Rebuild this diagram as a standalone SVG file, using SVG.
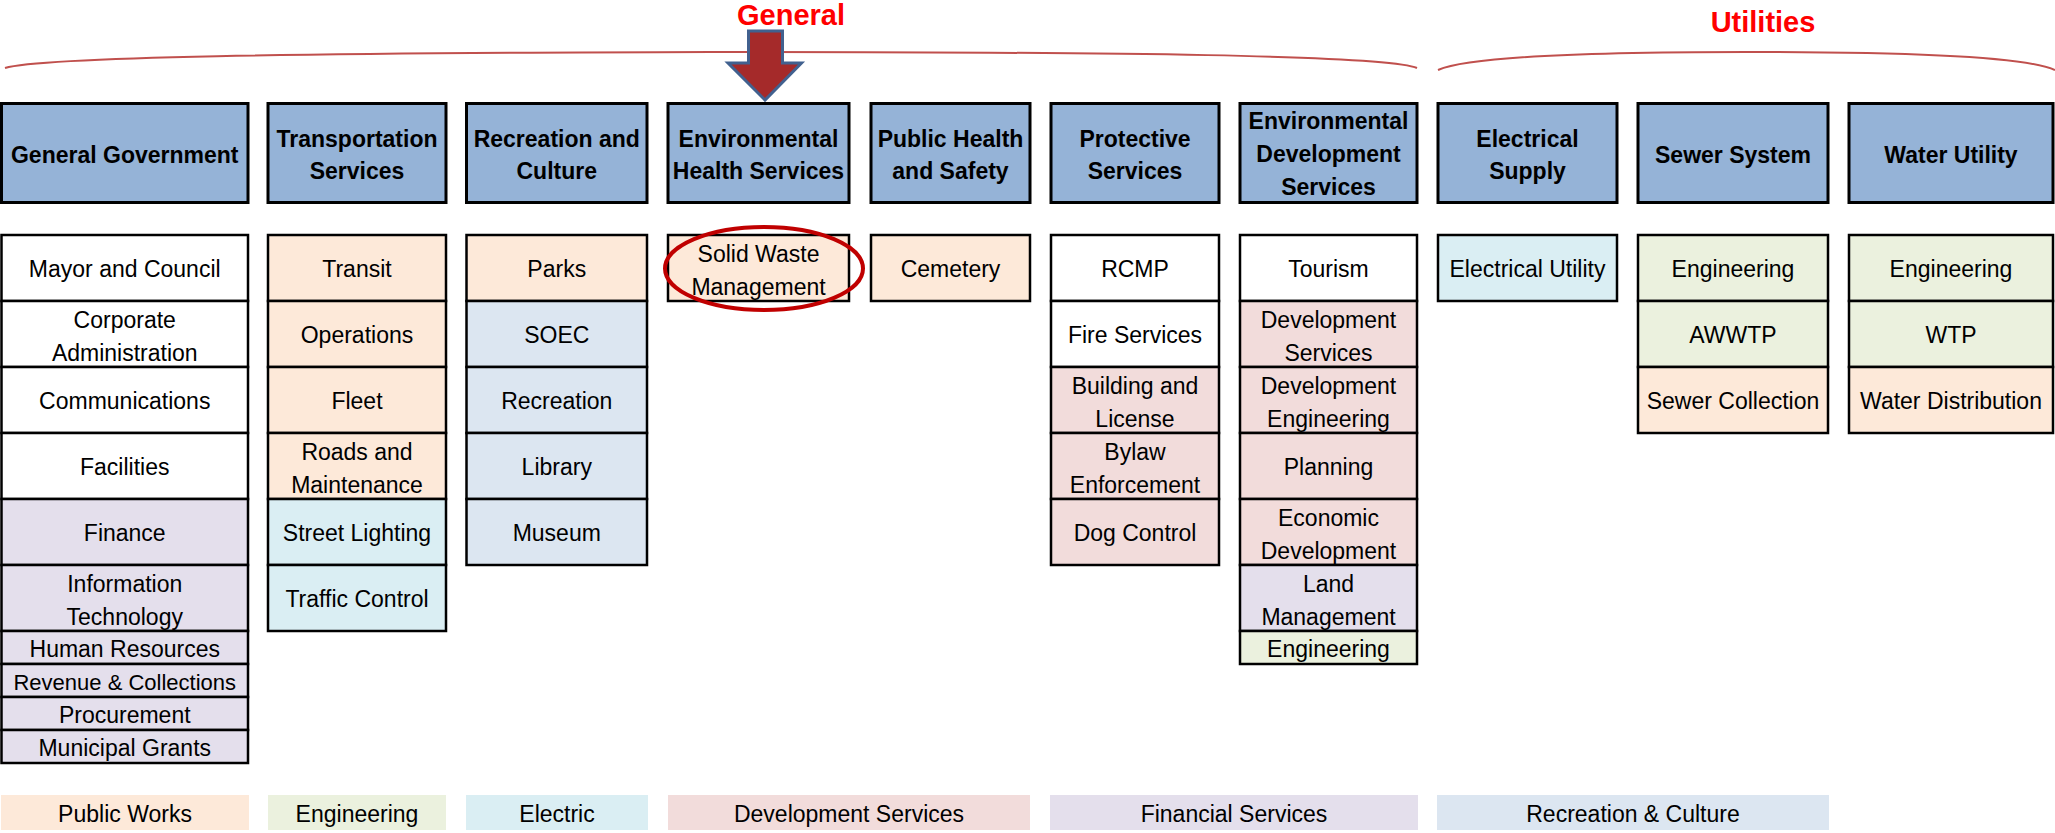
<svg xmlns="http://www.w3.org/2000/svg" width="2055" height="833" viewBox="0 0 2055 833">
<style>
.h{fill:#95b3d7;stroke:#000;stroke-width:3}
.c{stroke:#000;stroke-width:2.5}
.w{fill:#ffffff}.pw{fill:#fde9d9}.en{fill:#ebf1de}.el{fill:#daeef3}.ds{fill:#f2dcdb}.fs{fill:#e4dfec}.rc{fill:#dce6f1}
.ht{font-family:"Liberation Sans",Arial,sans-serif;font-weight:bold;font-size:23px;fill:#000;text-anchor:middle}
.t{font-family:"Liberation Sans",Arial,sans-serif;font-size:23px;fill:#000;text-anchor:middle}
.lbl{font-family:"Liberation Sans",Arial,sans-serif;font-weight:bold;font-size:29px;fill:#ff0000;text-anchor:middle}
.brace{fill:none;stroke:#c0504d;stroke-width:2}
</style>
<rect width="2055" height="833" fill="#ffffff"/>

<g id="annotations">
<text class="lbl" x="791" y="25">General</text>
<text class="lbl" x="1763" y="32">Utilities</text>
<path class="brace" d="M5,68 C40,57 300,53 711,52 C1120,52 1390,55 1417,68"/>
<path class="brace" d="M1438,70 C1470,56 1600,52 1746,52 C1890,52 2025,56 2055,70"/>
<polygon points="748.5,31 782.5,31 782.5,63 801.5,63 765,100 728,63 748.5,63" fill="#a52a2a" stroke="#41618f" stroke-width="3" stroke-linejoin="miter"/>
</g>

<!-- Headers -->
<g id="h-general-government"><rect class="h" x="1.5" y="103.5" width="246.5" height="99"/><text class="ht" x="124.75" y="163">General Government</text></g>
<g id="h-transportation"><rect class="h" x="268" y="103.5" width="178" height="99"/><text class="ht" x="357" y="147">Transportation</text><text class="ht" x="357" y="179">Services</text></g>
<g id="h-recreation"><rect class="h" x="466.5" y="103.5" width="180.5" height="99"/><text class="ht" x="556.75" y="147">Recreation and</text><text class="ht" x="556.75" y="179">Culture</text></g>
<g id="h-env-health"><rect class="h" x="668" y="103.5" width="181" height="99"/><text class="ht" x="758.5" y="147">Environmental</text><text class="ht" x="758.5" y="179">Health Services</text></g>
<g id="h-public-health"><rect class="h" x="871" y="103.5" width="159" height="99"/><text class="ht" x="950.5" y="147">Public Health</text><text class="ht" x="950.5" y="179">and Safety</text></g>
<g id="h-protective"><rect class="h" x="1051" y="103.5" width="168" height="99"/><text class="ht" x="1135" y="147">Protective</text><text class="ht" x="1135" y="179">Services</text></g>
<g id="h-env-dev"><rect class="h" x="1240" y="103.5" width="177" height="99"/><text class="ht" x="1328.5" y="129">Environmental</text><text class="ht" x="1328.5" y="162">Development</text><text class="ht" x="1328.5" y="195">Services</text></g>
<g id="h-electrical"><rect class="h" x="1438" y="103.5" width="179" height="99"/><text class="ht" x="1527.5" y="147">Electrical</text><text class="ht" x="1527.5" y="179">Supply</text></g>
<g id="h-sewer"><rect class="h" x="1638" y="103.5" width="190" height="99"/><text class="ht" x="1733" y="163">Sewer System</text></g>
<g id="h-water"><rect class="h" x="1849" y="103.5" width="204" height="99"/><text class="ht" x="1951" y="163">Water Utility</text></g>

<!-- Column 1 -->
<g id="c1-mayor"><rect class="c w" x="1.5" y="235" width="246.5" height="66"/><text class="t" x="124.75" y="277">Mayor and Council</text></g>
<g id="c1-corporate"><rect class="c w" x="1.5" y="301" width="246.5" height="66"/><text class="t" x="124.75" y="328">Corporate</text><text class="t" x="124.75" y="361">Administration</text></g>
<g id="c1-communications"><rect class="c w" x="1.5" y="367" width="246.5" height="66"/><text class="t" x="124.75" y="409">Communications</text></g>
<g id="c1-facilities"><rect class="c w" x="1.5" y="433" width="246.5" height="66"/><text class="t" x="124.75" y="475">Facilities</text></g>
<g id="c1-finance"><rect class="c fs" x="1.5" y="499" width="246.5" height="66"/><text class="t" x="124.75" y="541">Finance</text></g>
<g id="c1-it"><rect class="c fs" x="1.5" y="565" width="246.5" height="66"/><text class="t" x="124.75" y="592">Information</text><text class="t" x="124.75" y="625">Technology</text></g>
<g id="c1-hr"><rect class="c fs" x="1.5" y="631" width="246.5" height="33"/><text class="t" x="124.75" y="657">Human Resources</text></g>
<g id="c1-revenue"><rect class="c fs" x="1.5" y="664" width="246.5" height="33"/><text class="t" x="124.75" y="690" style="font-size:22px">Revenue &amp; Collections</text></g>
<g id="c1-procurement"><rect class="c fs" x="1.5" y="697" width="246.5" height="33"/><text class="t" x="124.75" y="723">Procurement</text></g>
<g id="c1-grants"><rect class="c fs" x="1.5" y="730" width="246.5" height="33"/><text class="t" x="124.75" y="756">Municipal Grants</text></g>

<!-- Column 2 -->
<g id="c2-transit"><rect class="c pw" x="268" y="235" width="178" height="66"/><text class="t" x="357" y="277">Transit</text></g>
<g id="c2-operations"><rect class="c pw" x="268" y="301" width="178" height="66"/><text class="t" x="357" y="343">Operations</text></g>
<g id="c2-fleet"><rect class="c pw" x="268" y="367" width="178" height="66"/><text class="t" x="357" y="409">Fleet</text></g>
<g id="c2-roads"><rect class="c pw" x="268" y="433" width="178" height="66"/><text class="t" x="357" y="460">Roads and</text><text class="t" x="357" y="493">Maintenance</text></g>
<g id="c2-street-lighting"><rect class="c el" x="268" y="499" width="178" height="66"/><text class="t" x="357" y="541">Street Lighting</text></g>
<g id="c2-traffic"><rect class="c el" x="268" y="565" width="178" height="66"/><text class="t" x="357" y="607">Traffic Control</text></g>

<!-- Column 3 -->
<g id="c3-parks"><rect class="c pw" x="466.5" y="235" width="180.5" height="66"/><text class="t" x="556.75" y="277">Parks</text></g>
<g id="c3-soec"><rect class="c rc" x="466.5" y="301" width="180.5" height="66"/><text class="t" x="556.75" y="343">SOEC</text></g>
<g id="c3-recreation"><rect class="c rc" x="466.5" y="367" width="180.5" height="66"/><text class="t" x="556.75" y="409">Recreation</text></g>
<g id="c3-library"><rect class="c rc" x="466.5" y="433" width="180.5" height="66"/><text class="t" x="556.75" y="475">Library</text></g>
<g id="c3-museum"><rect class="c rc" x="466.5" y="499" width="180.5" height="66"/><text class="t" x="556.75" y="541">Museum</text></g>

<!-- Column 4 -->
<g id="c4-solid-waste"><rect class="c pw" x="668" y="235" width="181" height="66"/><text class="t" x="758.5" y="262">Solid Waste</text><text class="t" x="758.5" y="295">Management</text>
<ellipse cx="764" cy="268.5" rx="99" ry="41.5" fill="none" stroke="#c00000" stroke-width="4"/></g>

<!-- Column 5 -->
<g id="c5-cemetery"><rect class="c pw" x="871" y="235" width="159" height="66"/><text class="t" x="950.5" y="277">Cemetery</text></g>

<!-- Column 6 -->
<g id="c6-rcmp"><rect class="c w" x="1051" y="235" width="168" height="66"/><text class="t" x="1135" y="277">RCMP</text></g>
<g id="c6-fire"><rect class="c w" x="1051" y="301" width="168" height="66"/><text class="t" x="1135" y="343">Fire Services</text></g>
<g id="c6-building"><rect class="c ds" x="1051" y="367" width="168" height="66"/><text class="t" x="1135" y="394">Building and</text><text class="t" x="1135" y="427">License</text></g>
<g id="c6-bylaw"><rect class="c ds" x="1051" y="433" width="168" height="66"/><text class="t" x="1135" y="460">Bylaw</text><text class="t" x="1135" y="493">Enforcement</text></g>
<g id="c6-dog"><rect class="c ds" x="1051" y="499" width="168" height="66"/><text class="t" x="1135" y="541">Dog Control</text></g>

<!-- Column 7 -->
<g id="c7-tourism"><rect class="c w" x="1240" y="235" width="177" height="66"/><text class="t" x="1328.5" y="277">Tourism</text></g>
<g id="c7-dev-services"><rect class="c ds" x="1240" y="301" width="177" height="66"/><text class="t" x="1328.5" y="328">Development</text><text class="t" x="1328.5" y="361">Services</text></g>
<g id="c7-dev-eng"><rect class="c ds" x="1240" y="367" width="177" height="66"/><text class="t" x="1328.5" y="394">Development</text><text class="t" x="1328.5" y="427">Engineering</text></g>
<g id="c7-planning"><rect class="c ds" x="1240" y="433" width="177" height="66"/><text class="t" x="1328.5" y="475">Planning</text></g>
<g id="c7-economic"><rect class="c ds" x="1240" y="499" width="177" height="66"/><text class="t" x="1328.5" y="526">Economic</text><text class="t" x="1328.5" y="559">Development</text></g>
<g id="c7-land"><rect class="c fs" x="1240" y="565" width="177" height="66"/><text class="t" x="1328.5" y="592">Land</text><text class="t" x="1328.5" y="625">Management</text></g>
<g id="c7-engineering"><rect class="c en" x="1240" y="631" width="177" height="33"/><text class="t" x="1328.5" y="657">Engineering</text></g>

<!-- Column 8 -->
<g id="c8-electrical-utility"><rect class="c el" x="1438" y="235" width="179" height="66"/><text class="t" x="1527.5" y="277">Electrical Utility</text></g>

<!-- Column 9 -->
<g id="c9-engineering"><rect class="c en" x="1638" y="235" width="190" height="66"/><text class="t" x="1733" y="277">Engineering</text></g>
<g id="c9-awwtp"><rect class="c en" x="1638" y="301" width="190" height="66"/><text class="t" x="1733" y="343">AWWTP</text></g>
<g id="c9-sewer-collection"><rect class="c pw" x="1638" y="367" width="190" height="66"/><text class="t" x="1733" y="409">Sewer Collection</text></g>

<!-- Column 10 -->
<g id="c10-engineering"><rect class="c en" x="1849" y="235" width="204" height="66"/><text class="t" x="1951" y="277">Engineering</text></g>
<g id="c10-wtp"><rect class="c en" x="1849" y="301" width="204" height="66"/><text class="t" x="1951" y="343">WTP</text></g>
<g id="c10-water-distribution"><rect class="c pw" x="1849" y="367" width="204" height="66"/><text class="t" x="1951" y="409">Water Distribution</text></g>

<!-- Legend -->
<g id="legend-public-works"><rect class="pw" x="1" y="795" width="248" height="35"/><text class="t" x="125" y="822">Public Works</text></g>
<g id="legend-engineering"><rect class="en" x="268" y="795" width="178" height="35"/><text class="t" x="357" y="822">Engineering</text></g>
<g id="legend-electric"><rect class="el" x="466" y="795" width="182" height="35"/><text class="t" x="557" y="822">Electric</text></g>
<g id="legend-development"><rect class="ds" x="668" y="795" width="362" height="35"/><text class="t" x="849" y="822">Development Services</text></g>
<g id="legend-financial"><rect class="fs" x="1050" y="795" width="368" height="35"/><text class="t" x="1234" y="822">Financial Services</text></g>
<g id="legend-recreation"><rect class="rc" x="1437" y="795" width="392" height="35"/><text class="t" x="1633" y="822">Recreation &amp; Culture</text></g>

<g id="connectors"></g>
</svg>
